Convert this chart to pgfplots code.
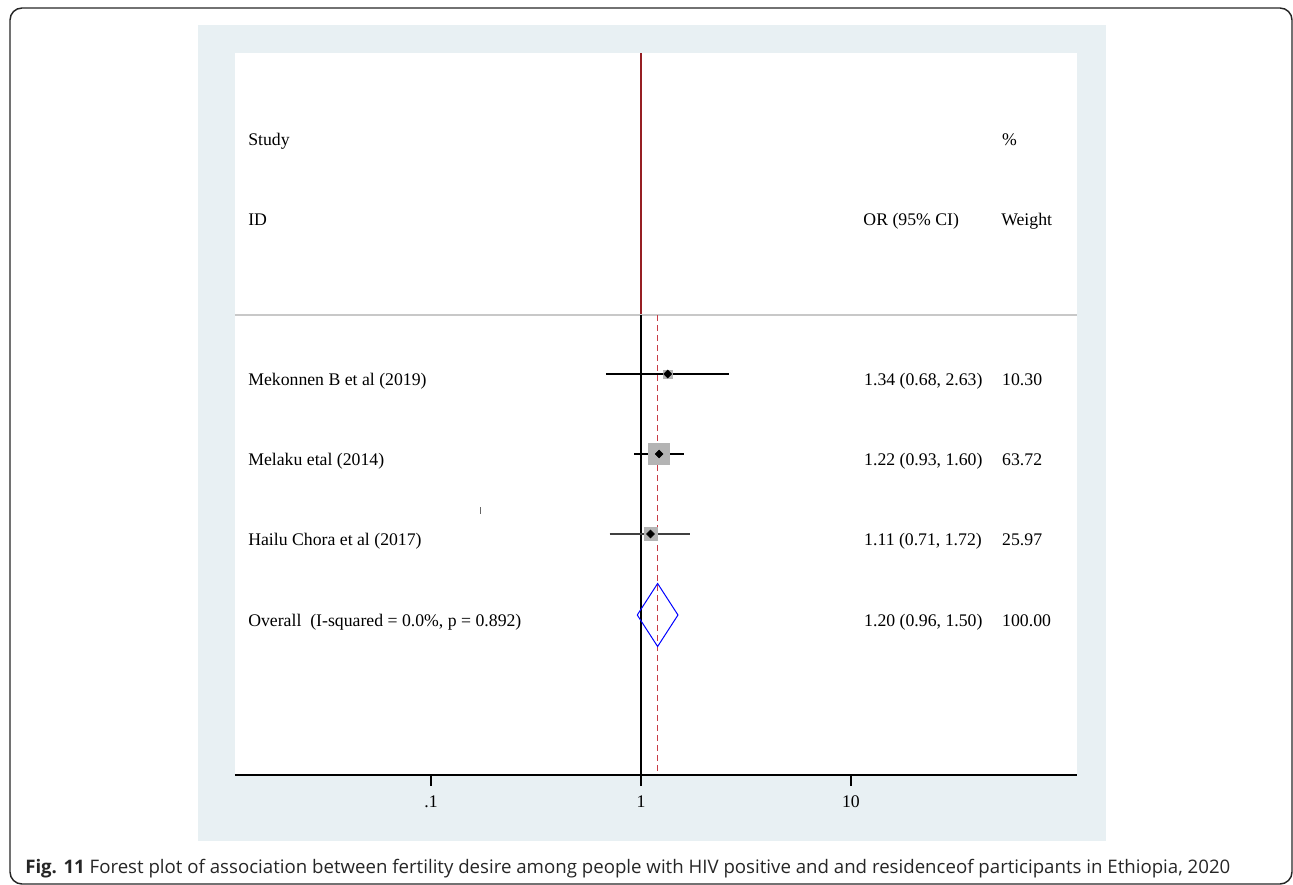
\documentclass[border=0pt]{standalone}
\usepackage{pgfplots}
\pgfplotsset{compat=1.18}
\usepackage{fontspec}
\setmainfont{Liberation Serif}
\newfontfamily\capfont{Open Sans}
\definecolor{panel}{RGB}{232,240,243}
\definecolor{boxgray}{RGB}{180,180,180}
\definecolor{nullred}{RGB}{150,30,35}
\definecolor{dashred}{RGB}{200,60,70}
\definecolor{hgray}{RGB}{200,200,200}
\newcommand{\fs}{\fontsize{13.3}{16}\selectfont}
\begin{document}
\fs
\begin{tikzpicture}
\begin{scope}[x=0.75pt,y=-0.75pt]
\path[use as bounding box] (0,0) rectangle (1293,885);
\draw[line width=1.1pt, black!85, rounded corners=9pt] (10,8) rectangle (1292,884);
\fill[panel] (198,25) rectangle (1106,841);
\fill[white] (235,53) rectangle (1077,775);
\node[anchor=base west, inner sep=0pt, text=black!85] at (25,873) {\resizebox{903.75pt}{!}{\capfont\textbf{Fig. 11} Forest plot of association between fertility desire among people with HIV positive and and residenceof participants in Ethiopia, 2020}};
\end{scope}
\begin{axis}[
  at={(176.25pt,-581.25pt)}, anchor=south west,
  width=631.5pt, height=541.5pt, scale only axis,
  xmode=log, xmin=0.011659, xmax=119.18,
  ymin=-775, ymax=-53,
  axis x line*=bottom, axis y line=none,
  axis line style={black, line width=1pt},
  xtick={0.1,1,10}, xticklabels={.1,1,10},
  xminorticks=false,
  tick align=outside, major tick length=8.25pt,
  xtick style={black, line width=0.8pt},
  xticklabel style={font=\fs, anchor=base, yshift=-16pt},
  clip=false,
]
% reference lines
\addplot[nullred, line width=0.8pt] coordinates {(1,-53) (1,-775)};
\addplot[hgray, line width=0.9pt] coordinates {(0.011659,-315) (119.18,-315)};
\addplot[black, line width=0.9pt] coordinates {(1,-315) (1,-775)};
% dashed line at the overall estimate (OR = 1.20), drawn as short segments
\pgfplotsinvokeforeach{0,...,45}{
  \draw[dashred, line width=0.9pt] (axis cs:1.20,{-315-10*#1}) -- (axis cs:1.20,{-321-10*#1});
}
% weight boxes
\addplot[only marks, mark=square*, mark size=3.17pt, mark options={draw=boxgray, fill=boxgray}] coordinates {(1.34,-374)};
\addplot[only marks, mark=square*, mark size=7.88pt, mark options={draw=boxgray, fill=boxgray}] coordinates {(1.22,-454)};
\addplot[only marks, mark=square*, mark size=5.03pt, mark options={draw=boxgray, fill=boxgray}] coordinates {(1.11,-534)};
% confidence intervals
\addplot[black, line width=0.8pt] coordinates {(0.68,-374) (2.63,-374)};
\addplot[black, line width=0.8pt] coordinates {(0.93,-454) (1.60,-454)};
\addplot[black!75, line width=0.8pt] coordinates {(0.71,-534) (1.72,-534)};
% point estimates
\addplot[only marks, mark=square*, mark size=2.1pt, mark options={black, rotate=45}] coordinates {(1.34,-374) (1.22,-454) (1.11,-534)};
% overall diamond
\addplot[blue, line width=0.75pt] coordinates {(0.96,-615) (1.20,-583.5) (1.50,-615) (1.20,-646.5) (0.96,-615)};
% stray tick
\addplot[black!60, line width=0.6pt] coordinates {(0.1712,-507) (0.1712,-514)};
% texts
\node[anchor=base west, inner sep=0pt] at (axis cs:0.013446,-145) {Study};
\node[anchor=base west, inner sep=0pt] at (axis cs:0.013446,-225) {ID};
\node[anchor=base west, inner sep=0pt] at (axis cs:11.43,-225) {OR (95\% CI)};
\node[anchor=base west, inner sep=0pt] at (axis cs:52.36,-145) {\%};
\node[anchor=base west, inner sep=0pt] at (axis cs:51.8,-225) {Weight};
\node[anchor=base west, inner sep=0pt] at (axis cs:0.013446,-385) {Mekonnen B et al (2019)};
\node[anchor=base west, inner sep=0pt] at (axis cs:0.013446,-465) {Melaku etal (2014)};
\node[anchor=base west, inner sep=0pt] at (axis cs:0.013446,-545) {Hailu Chora et al (2017)};
\node[anchor=base west, inner sep=0pt] at (axis cs:0.013446,-626) {Overall\ \ (I-squared = 0.0\%, p = 0.892)};
\node[anchor=base west, inner sep=0pt] at (axis cs:11.53,-385) {1.34 (0.68, 2.63)};
\node[anchor=base west, inner sep=0pt] at (axis cs:11.53,-465) {1.22 (0.93, 1.60)};
\node[anchor=base west, inner sep=0pt] at (axis cs:11.53,-545) {1.11 (0.71, 1.72)};
\node[anchor=base west, inner sep=0pt] at (axis cs:11.53,-626) {1.20 (0.96, 1.50)};
\node[anchor=base west, inner sep=0pt] at (axis cs:52.36,-385) {10.30};
\node[anchor=base west, inner sep=0pt] at (axis cs:52.36,-465) {63.72};
\node[anchor=base west, inner sep=0pt] at (axis cs:52.36,-545) {25.97};
\node[anchor=base west, inner sep=0pt] at (axis cs:52.36,-626) {100.00};
\end{axis}
\end{tikzpicture}
\end{document}
